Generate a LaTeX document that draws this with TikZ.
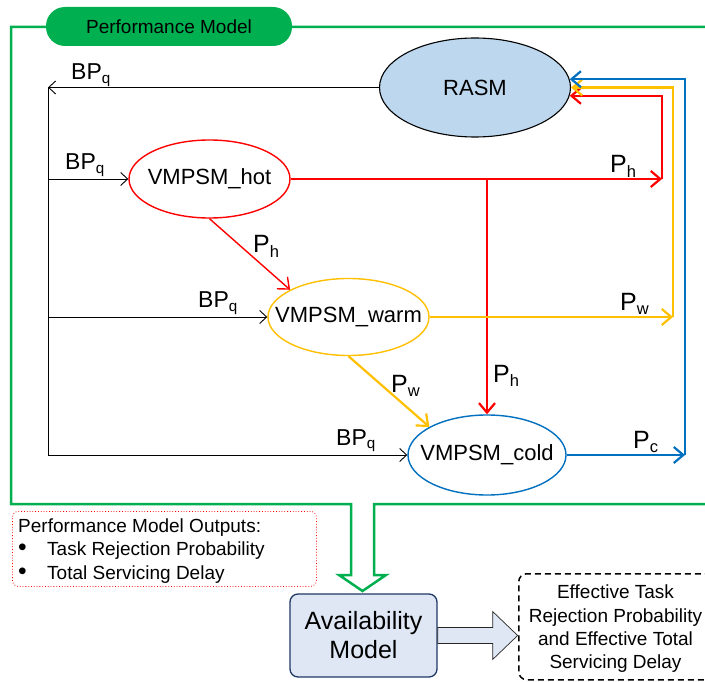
\documentclass[tikz,border=0pt]{standalone}
\usepackage{fontspec}
\setmainfont{Liberation Sans}
\usetikzlibrary{arrows.meta,calc,shapes.geometric}
\definecolor{pgreen}{HTML}{00B050}
\definecolor{pred}{HTML}{FF0000}
\definecolor{porange}{HTML}{FFC000}
\definecolor{pblue}{HTML}{0070C0}
\definecolor{rasmfill}{HTML}{BDD7EE}
\definecolor{availfill}{HTML}{DFE7F5}
\definecolor{availdraw}{HTML}{203864}
\newcommand\sbx[1]{\raisebox{-0.17em}{\scalebox{0.66}{#1}}}
\begin{document}
\begin{tikzpicture}[x=1pt,y=-1pt,
  state/.style={ellipse, draw, line width=1.4pt, inner sep=0pt, fill=white,
    font=\fontsize{22pt}{26pt}\selectfont},
  blk/.style={draw=black, line width=0.9pt,
    -{Straight Barb[length=7pt,width=13pt,line width=0.9pt]}},
  col/.style={line width=2.2pt, -{Straight Barb[length=9.5pt,width=16pt]}},
  lab/.style={anchor=base west, inner sep=0pt, font=\fontsize{25pt}{29pt}\selectfont},
  bplab/.style={anchor=base west, inner sep=0pt, font=\fontsize{23pt}{28pt}\selectfont},
  txt19/.style={anchor=base west, inner sep=0pt, font=\fontsize{19pt}{23pt}\selectfont},
]
\useasboundingbox (0,0) rectangle (705,682);
\clip (0,0) rectangle (705,682);
\fill[white] (0,0) rectangle (705,682);

% green outline of the performance model with its arrow
\draw[pgreen, line width=2.5pt, line join=miter]
  (712,27) -- (11,27) -- (11,504) -- (351,504) -- (351,575) -- (339,575)
  -- (362.5,591) -- (386,575) -- (374,575) -- (374,504) -- (712,504);
\node[fill=pgreen, rounded corners=19pt, minimum width=246pt, minimum height=39pt,
  inner sep=0pt, font=\fontsize{19pt}{22pt}\selectfont] (hdr) at (169,26.5) {Performance Model};

% states
\node[state, draw=black, fill=rasmfill, line width=1.1pt, minimum width=191pt,
  minimum height=99pt] (rasm) at (475,87.5) {\makebox[0pt]{RASM}};
\node[state, draw=pred, minimum width=161pt, minimum height=78pt] (hot) at (209.5,179)
  {\makebox[0pt]{VMPSM\_hot}};
\node[state, draw=porange, minimum width=161pt, minimum height=77pt] (warm) at (348.5,317)
  {\makebox[0pt]{VMPSM\_warm}};
\node[state, draw=pblue, minimum width=158pt, minimum height=80pt] (cold) at (487,455)
  {\makebox[0pt]{VMPSM\_cold}};

% black BP_q feedback lines
\coordinate (xl) at (48,0);
\coordinate (bl) at (rasm.west -| xl);
\coordinate (bb) at (cold.west -| xl);
\draw[blk] (rasm.west) -- (bl);
\draw[blk] (bl) -- (bb) -- (cold.west);
\draw[blk] (hot.west -| xl) -- (hot.west);
\draw[blk] (warm.west -| xl) -- (warm.west);

% coloured transitions
\coordinate (xr) at (662,0);
\coordinate (xo) at (673,0);
\coordinate (xb) at (685,0);
\draw[col, pred] (hot.east) -- (hot.east -| xr);
\draw[col, pred] (hot.east -| xr) |- (rasm.-5);
\draw[col, pred] (hot.east -| cold.north) -- (cold.north);
\draw[col, pred, line width=1.4pt] (hot.south) -- (warm.155);
\draw[col, porange] (warm.east) -- (warm.east -| xo);
\draw[col, porange] (warm.east -| xo) |- (rasm.0);
\draw[col, porange] (warm.south) -- (cold.154);
\draw[col, pblue] (cold.east) -- (cold.east -| xb);
\draw[col, pblue] (cold.east -| xb) |- (rasm.5);

% labels
\node[bplab] (lbp0) at (71,80) {BP\sbx{q}};
\node[bplab] (lbp1) at (65,170) {BP\sbx{q}};
\node[bplab] (lbp2) at (198,308) {BP\sbx{q}};
\node[bplab] (lbp3) at (336,445) {BP\sbx{q}};
\node[lab] (lph1) at (253,253) {P\sbx{h}};
\node[lab] (lph2) at (610,173) {P\sbx{h}};
\node[lab] (lph3) at (493,382) {P\sbx{h}};
\node[lab] (lpw1) at (620,310) {P\sbx{w}};
\node[lab] (lpw2) at (391,392) {P\sbx{w}};
\node[lab] (lpc) at (633,448) {P\sbx{c}};

% outputs box
\node[draw=pred, dotted, line width=0.8pt, rounded corners=6pt, anchor=north west,
  minimum width=304pt, minimum height=75pt, inner sep=0pt] (outs) at (12,511) {};
\node[txt19] (o1) at (18,532) {Performance Model Outputs:};
\node[txt19] (o2) at (18,555) {\makebox[29pt][l]{\scalebox{1.3}{\textbullet}}Task Rejection Probability};
\node[txt19] (o3) at (18,579) {\makebox[29pt][l]{\scalebox{1.3}{\textbullet}}Total Servicing Delay};

% availability model
\node[draw=availdraw, fill=availfill, line width=1.3pt, rounded corners=8pt,
  minimum width=147pt, minimum height=83pt, inner sep=0pt, align=center,
  font=\fontsize{25pt}{29pt}\selectfont] (avail) at (363.5,635.5) {Availability\\Model};

% effective result box
\node[draw=black, dash pattern=on 6pt off 4pt, line width=1.5pt, rounded corners=8pt,
  anchor=north west, minimum width=200pt, minimum height=106pt, inner sep=0pt] (eff) at (518,573) {};
\node[align=center, inner sep=0pt, font=\fontsize{19pt}{23.3pt}\selectfont] (efft) at (615.5,629)
  {Effective Task\\Rejection Probability\\and Effective Total\\Servicing Delay};

% block arrow from availability model to result
\draw[fill=availfill, draw=black!85, line width=0.7pt]
  ($(avail.east)+(0,-8)$) -- ++(55,0) -- ++(0,-16) -- ++(25,24) -- ++(-25,24)
  -- ++(0,-16) -- ++(-55,0) -- cycle;
\end{tikzpicture}
\end{document}
